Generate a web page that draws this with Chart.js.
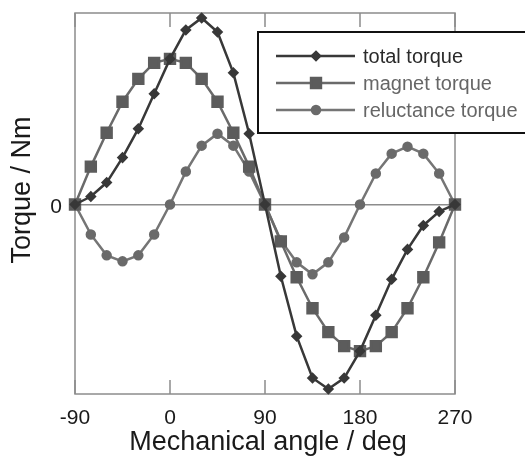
<!DOCTYPE html>
<html lang="en">
<head>
<meta charset="UTF-8" />
<title>Torque vs mechanical angle</title>
<script src="https://cdn.jsdelivr.net/npm/chart.js"></script>
<style>
  body { margin: 0; background: #fff; }
  canvas { display: block; }
</style>
</head>
<body>
<canvas id="torqueChart" width="525" height="456"></canvas>
<script>
const angles = [-90, -75, -60, -45, -30, -15, 0, 15, 30, 45, 60, 75, 90,
                105, 120, 135, 150, 165, 180, 195, 210, 225, 240, 255, 270];
const totalTorque = [0, 0.08, 0.22, 0.47, 0.76, 1.11, 1.46, 1.75, 1.87, 1.73, 1.32, 0.71, 0,
                     -0.72, -1.32, -1.74, -1.85, -1.74, -1.47, -1.11, -0.75, -0.45, -0.21, -0.07, 0];
const magnetTorque = [0, 0.38, 0.72, 1.03, 1.26, 1.42, 1.46, 1.42, 1.26, 1.03, 0.72, 0.38, 0,
                      -0.37, -0.73, -1.04, -1.28, -1.42, -1.47, -1.42, -1.28, -1.04, -0.73, -0.38, 0];
const reluctanceTorque = [0, -0.30, -0.51, -0.57, -0.51, -0.30, 0, 0.33, 0.59, 0.71, 0.59, 0.33, 0,
                          -0.36, -0.58, -0.70, -0.58, -0.33, 0, 0.31, 0.51, 0.58, 0.51, 0.31, 0];
const angleTicks = [-90, 0, 90, 180, 270];
const torqueTicks = [0];

const FONT = '"Liberation Sans", Arial, sans-serif';
const toPoints = ys => angles.map((a, i) => ({ x: a, y: ys[i] }));

// plot frame plus short inward ticks on top and bottom edges
const frame = {
  id: 'frame',
  beforeDatasetsDraw(chart) {
    const { ctx, chartArea: a, scales: { x } } = chart;
    ctx.save();
    ctx.strokeStyle = '#8c8c8c';
    ctx.lineWidth = 1.5;
    ctx.strokeRect(a.left, a.top, a.right - a.left, a.bottom - a.top);
    ctx.beginPath();
    angleTicks.forEach(v => {
      const px = x.getPixelForValue(v);
      ctx.moveTo(px, a.bottom); ctx.lineTo(px, a.bottom - 14);
      ctx.moveTo(px, a.top); ctx.lineTo(px, a.top + 14);
    });
    ctx.stroke();
    ctx.restore();
  }
};

// axis titles
const titles = {
  id: 'titles',
  afterDraw(chart) {
    const ctx = chart.ctx;
    ctx.save();
    ctx.fillStyle = '#1a1a1a';
    ctx.font = '27px ' + FONT;
    ctx.textAlign = 'center';
    ctx.textBaseline = 'alphabetic';
    ctx.fillText('Mechanical angle / deg', 268, 450);
    ctx.translate(23, 190);
    ctx.rotate(-Math.PI / 2);
    ctx.textBaseline = 'middle';
    ctx.fillText('Torque / Nm', 0, 0);
    ctx.restore();
  }
};

// boxed legend sitting over the upper right of the plot
const legendBox = {
  id: 'legendBox',
  afterDatasetsDraw(chart) {
    const ctx = chart.ctx;
    ctx.save();
    ctx.fillStyle = '#fff';
    ctx.fillRect(258, 32, 280, 101);
    ctx.strokeStyle = '#111';
    ctx.lineWidth = 2;
    ctx.strokeRect(258, 32, 280, 101);
    chart.data.datasets.forEach((ds, i) => {
      const y = 56 + i * 27;
      ctx.strokeStyle = ds.borderColor;
      ctx.lineWidth = ds.borderWidth;
      ctx.beginPath();
      ctx.moveTo(276, y);
      ctx.lineTo(355, y);
      ctx.stroke();
      ctx.fillStyle = ds.pointBackgroundColor;
      ctx.strokeStyle = ds.pointBorderColor;
      Chart.helpers.drawPoint(ctx, { pointStyle: ds.pointStyle, radius: ds.pointRadius, borderWidth: 1, rotation: 0 }, 316, y);
      ctx.fillStyle = ds.legendText;
      ctx.font = '20px ' + FONT;
      ctx.textBaseline = 'middle';
      ctx.fillText(ds.label, 363, y + 1);
    });
    ctx.restore();
  }
};

new Chart(document.getElementById('torqueChart'), {
  type: 'line',
  data: {
    datasets: [
      {
        label: 'total torque',
        data: toPoints(totalTorque),
        borderColor: '#383838',
        borderWidth: 2.5,
        pointStyle: 'rectRot',
        pointRadius: 4,
        pointBackgroundColor: '#383838',
        pointBorderColor: '#383838',
        legendText: '#2a2a2a'
      },
      {
        label: 'magnet torque',
        data: toPoints(magnetTorque),
        borderColor: '#6a6a6a',
        borderWidth: 2.5,
        pointStyle: 'rect',
        pointRadius: 7,
        pointBackgroundColor: '#5c5c5c',
        pointBorderColor: '#5c5c5c',
        legendText: '#666'
      },
      {
        label: 'reluctance torque',
        data: toPoints(reluctanceTorque),
        borderColor: '#757575',
        borderWidth: 2.5,
        pointStyle: 'circle',
        pointRadius: 4,
        pointBackgroundColor: '#6a6a6a',
        pointBorderColor: '#6a6a6a',
        legendText: '#666'
      }
    ]
  },
  options: {
    responsive: false,
    animation: false,
    layout: { padding: { top: 13, right: 70, bottom: 0, left: 0 } },
    elements: { line: { tension: 0 } },
    datasets: { line: { clip: false } },
    plugins: { legend: { display: false }, tooltip: { enabled: false }, title: { display: false } },
    scales: {
      x: {
        type: 'linear',
        min: -90,
        max: 270,
        afterBuildTicks: s => { s.ticks = angleTicks.map(v => ({ value: v })); },
        afterFit: s => { s.height = 62; },
        grid: { display: false },
        border: { display: false },
        ticks: { color: '#1a1a1a', font: { family: FONT, size: 21 }, padding: 4, maxRotation: 0, autoSkip: false }
      },
      y: {
        min: -1.90,
        max: 1.92,
        afterBuildTicks: s => { s.ticks = torqueTicks.map(v => ({ value: v })); },
        afterFit: s => { s.width = 75; s.paddingTop = 0; s.paddingBottom = 0; },
        grid: { color: '#8c8c8c', lineWidth: 1.5, drawTicks: false },
        border: { display: false },
        ticks: { color: '#1a1a1a', font: { family: FONT, size: 21 }, padding: 13, labelOffset: 3 }
      }
    }
  },
  plugins: [frame, legendBox, titles]
});
</script>
</body>
</html>
